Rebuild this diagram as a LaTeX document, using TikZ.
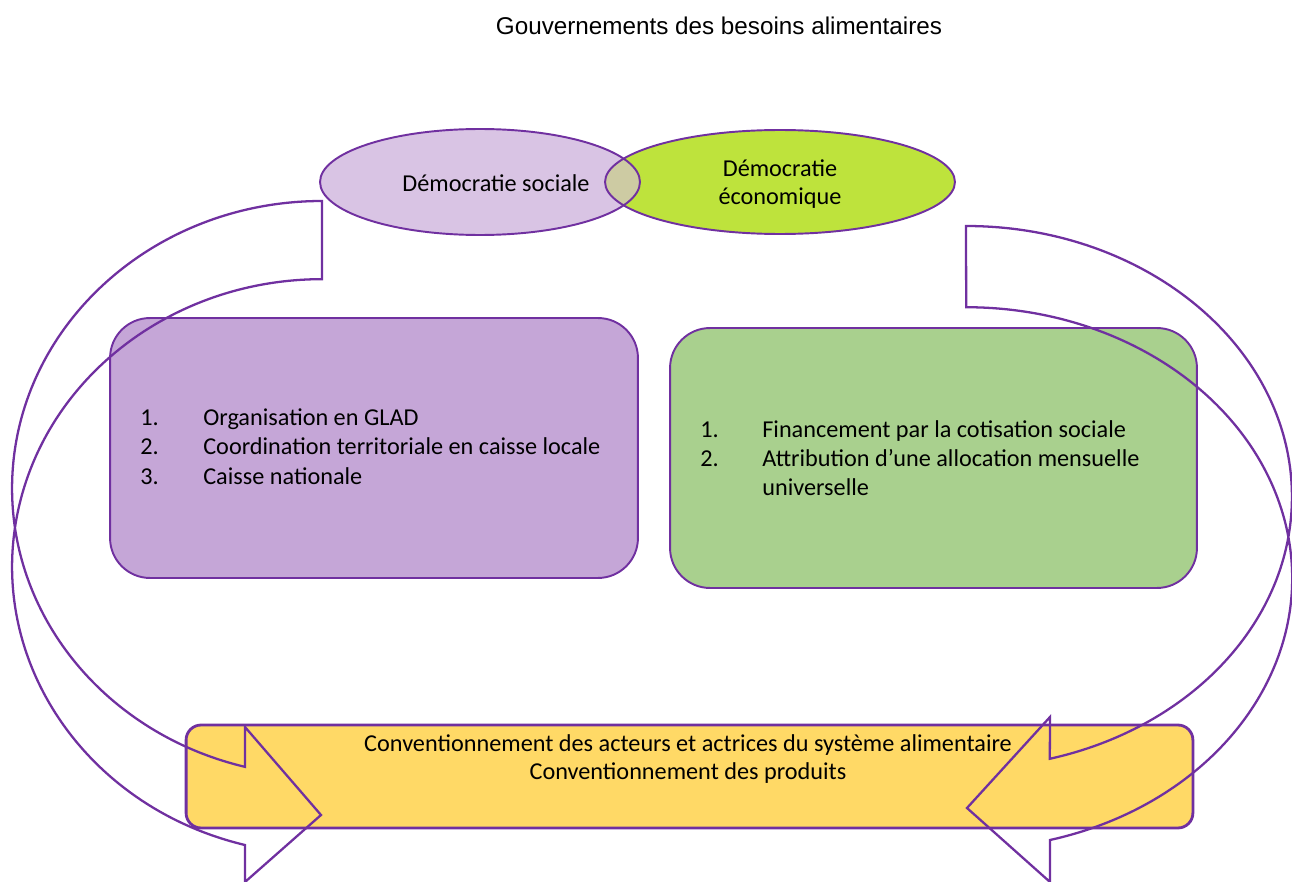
\documentclass[tikz,border=0pt]{standalone}
\usepackage{fontspec}
\setmainfont{Carlito}
\newfontfamily\titrefont{Liberation Sans}
\usetikzlibrary{shapes.geometric}
\definecolor{trait}{RGB}{112, 48, 160}
\definecolor{lilas}{RGB}{217, 196, 228}
\definecolor{vertvif}{RGB}{190, 227, 60}
\definecolor{mixte}{RGB}{205, 203, 163}
\definecolor{mauve}{RGB}{197, 166, 215}
\definecolor{vertdoux}{RGB}{169, 208, 142}
\definecolor{jaune}{RGB}{255, 217, 102}

\begin{document}
\begin{tikzpicture}[x = 0.02cm, y = -0.02cm,
		texte/.style = {font = \fontsize{13.8}{16}\selectfont},
		boite/.style = {rectangle, draw = trait, line width = 1.1pt, rounded corners = 0.8cm},
		fleche/.style = {draw = trait, line width = 1.3pt}]
			\useasboundingbox (0,0) rectangle (1292,882);
			\node (titre) at (719,26) [font = \titrefont\fontsize{13.8}{16}\selectfont] {Gouvernements des besoins alimentaires};
			% les deux bulles
			\fill[lilas] (480,182) ellipse [x radius = 3.2cm, y radius = 1.06cm];
			\fill[vertvif] (780,182) ellipse [x radius = 3.5cm, y radius = 1.04cm];
			\begin{scope}
				\clip (480,182) ellipse [x radius = 3.2cm, y radius = 1.06cm];
				\fill[mixte] (780,182) ellipse [x radius = 3.5cm, y radius = 1.04cm];
			\end{scope}
			\draw[trait, line width = 1.1pt] (480,182) ellipse [x radius = 3.2cm, y radius = 1.06cm];
			\draw[trait, line width = 1.1pt] (780,182) ellipse [x radius = 3.5cm, y radius = 1.04cm];
			\node (sociale) at (496,183) [texte] {Démocratie sociale};
			\node (economique) at (780,184) [texte, align = center] {Démocratie\\économique};
			% les trois cadres
			\node (glad) at (374,448) [boite, fill = mauve, minimum width = 10.56cm, minimum height = 5.2cm] {};
			\node (cotisation) at (933.5,458) [boite, fill = vertdoux, minimum width = 10.54cm, minimum height = 5.2cm] {};
			\node (conventions) at (689.5,776.5) [boite, fill = jaune, line width = 1.6pt, rounded corners = 0.3cm, minimum width = 20.14cm, minimum height = 2.06cm] {};
			\node (listeg) at (140,449) [anchor = west, inner sep = 0pt, font = \fontsize{13.8}{17}\selectfont] {\begin{tabular}{@{}p{1.26cm}@{}l@{}}
				1. & Organisation en GLAD\\
				2. & Coordination territoriale en caisse locale\\
				3. & Caisse nationale
			\end{tabular}};
			\node (listed) at (700,461) [anchor = west, inner sep = 0pt, font = \fontsize{13.8}{16.5}\selectfont] {\begin{tabular}{@{}p{1.24cm}@{}l@{}}
				1. & Financement par la cotisation sociale\\
				2. & Attribution d’une allocation mensuelle\\
				 & universelle
			\end{tabular}};
			\node (textec) at (688,759) [texte, align = center] {Conventionnement des acteurs et actrices du système alimentaire\\Conventionnement des produits};
			% fleches courbes
			\draw[fleche] (322,201) arc [start angle = 90, end angle = 255.6, x radius = 6.2cm, y radius = 5.75cm]
				-- (245,727) -- (321,815) -- (245,882) -- (245,845)
				arc [start angle = 255.6, end angle = 90, x radius = 6.2cm, y radius = 5.75cm] -- cycle;
			\draw[fleche] (966,226) arc [start angle = 90, end angle = -75.1, x radius = 6.52cm, y radius = 5.42cm]
				-- (1050,717) -- (967,808) -- (1050,882) -- (1050,840)
				arc [start angle = -75.1, end angle = 90, x radius = 6.52cm, y radius = 5.42cm] -- cycle;
\end{tikzpicture}
\end{document}
